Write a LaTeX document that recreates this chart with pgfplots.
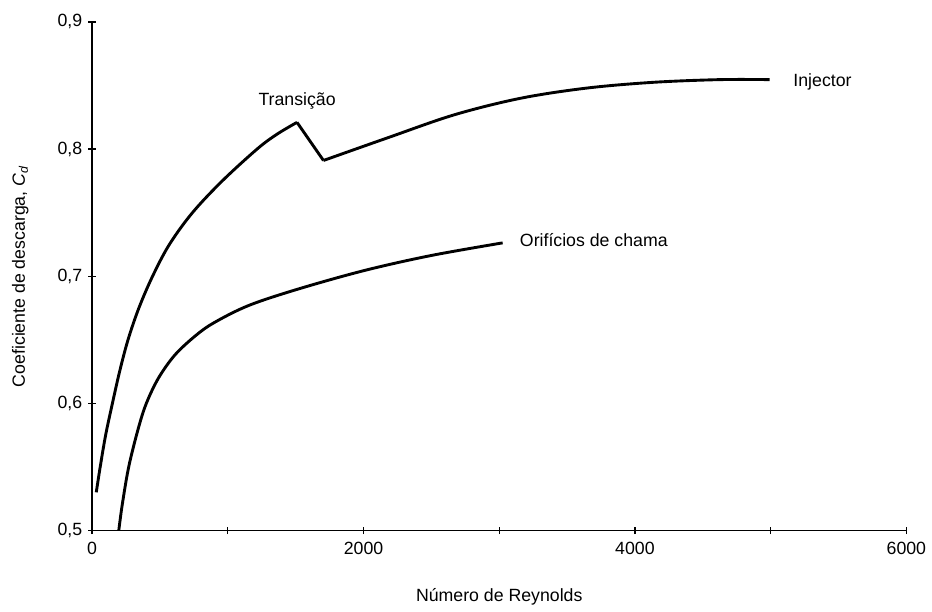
\documentclass[border=0pt]{standalone}
\usepackage{pgfplots}
\pgfplotsset{compat=1.18}
\usepackage{fontspec}
\setmainfont{Liberation Sans}
\begin{document}
\fontsize{8.9}{10.6}\selectfont
\begin{tikzpicture}
\begin{axis}[
  scale only axis,
  width=409.1pt, height=255.5pt,
  xmin=0, xmax=6000, ymin=0.5, ymax=0.9,
  axis lines*=left,
  axis line style={line width=0.65pt},
  every tick/.style={black, line width=0.65pt},
  tick align=center,
  major tick length=3.6pt,
  xtick={0,1000,2000,3000,4000,5000,6000},
  xticklabels={0,,2000,,4000,,6000},
  ytick={0.5,0.6,0.7,0.8,0.9},
  yticklabels={{0,5},{0,6},{0,7},{0,8},{0,9}},
  tick label style={font=\fontsize{8.9}{10.6}\selectfont},
  xticklabel style={yshift=-1pt},
  xlabel={Número de Reynolds},
  ylabel={Coeficiente de descarga, \textit{C}\textsubscript{\textit{d}}},
  xlabel style={at={(axis description cs:0.5,0)}, anchor=center, yshift=-33.5pt},
  ylabel style={at={(axis description cs:0,0.5)}, anchor=center, yshift=36pt},
  label style={font=\fontsize{8.9}{10.6}\selectfont},
  clip=false,
]
% Injector, laminar branch
\addplot[black, line width=1.45pt, smooth, tension=0.55] coordinates {
 (31,0.530) (60,0.550) (100,0.575) (150,0.600) (203,0.625) (265,0.650)
 (345,0.675) (446,0.700) (570,0.725) (740,0.750) (960,0.775) (1216,0.800)
 (1360,0.8115) (1510,0.821)
};
% transition drop
\addplot[black, line width=1.45pt] coordinates {(1510,0.821) (1705,0.791)};
% Injector, turbulent branch
\addplot[black, line width=1.45pt, smooth, tension=0.55] coordinates {
 (1705,0.791) (2182,0.809) (2671,0.827) (3160,0.840) (3649,0.848)
 (4138,0.8525) (4627,0.8546) (4993,0.8546)
};
% Orificios de chama
\addplot[black, line width=1.45pt, smooth, tension=0.55] coordinates {
 (197,0.500) (222,0.520) (270,0.550) (340,0.580) (400,0.600) (490,0.620)
 (610,0.638) (760,0.653) (900,0.6635) (1155,0.677) (1522,0.690) (2011,0.7046)
 (2500,0.7163) (3025,0.7262)
};
\node[anchor=base, inner sep=0pt] at (axis cs:1511,0.8345) {Transição};
\node[anchor=base west, inner sep=0pt] at (axis cs:5165,0.8489) {Injector};
\node[anchor=base west, inner sep=0pt] at (axis cs:3150,0.7231) {Orifícios de chama};
\end{axis}
\path (current axis.south west) ++(-46.25pt,-39pt) rectangle ++(466pt,305.5pt);
\end{tikzpicture}
\end{document}
